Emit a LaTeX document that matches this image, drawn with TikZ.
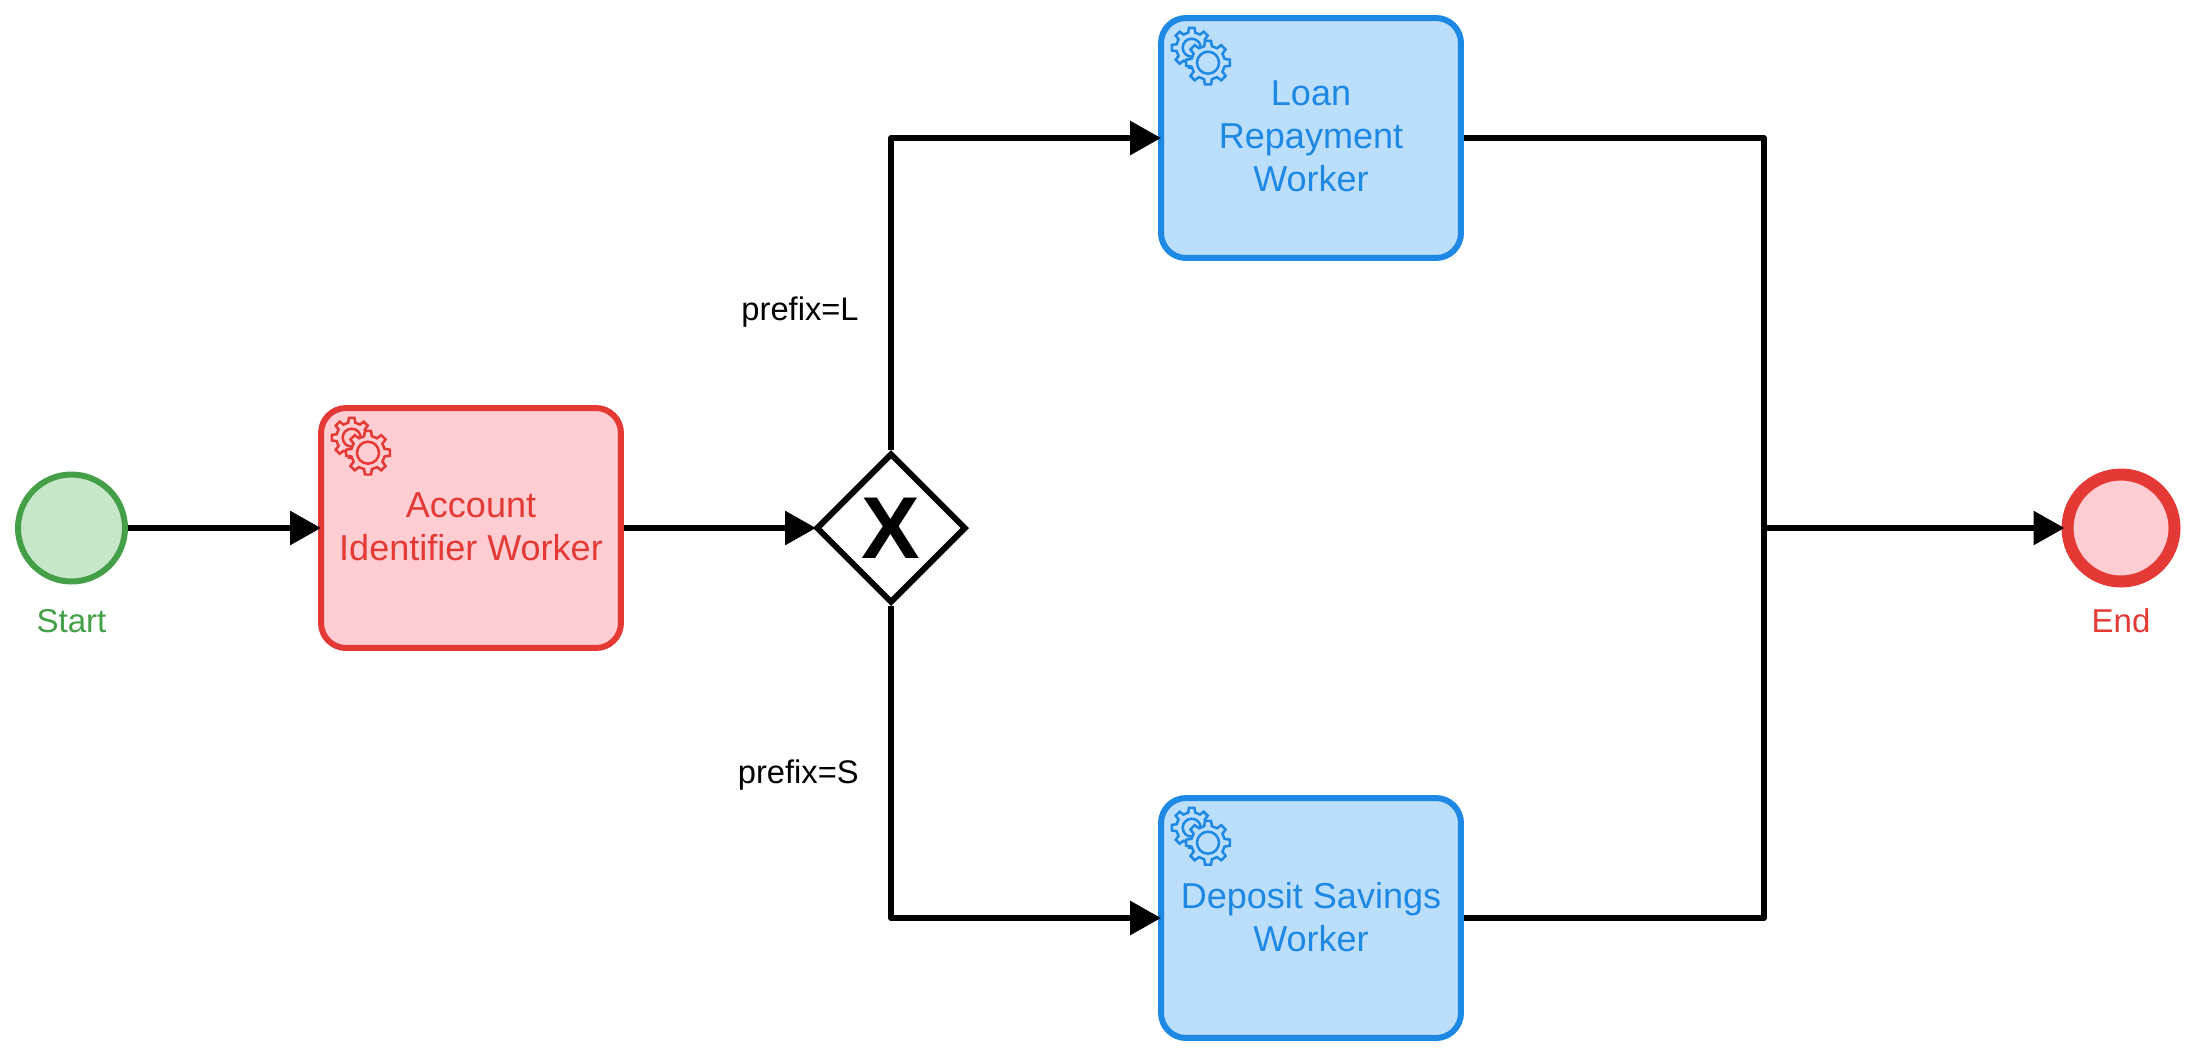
\documentclass[tikz,border=0pt]{standalone}
\usepackage{fontspec}
\setmainfont{Liberation Sans}
\usetikzlibrary{arrows.meta,shapes.geometric}
\definecolor{redline}{HTML}{E53935}
\definecolor{redfill}{HTML}{FFCDD2}
\definecolor{blueline}{HTML}{1E88E5}
\definecolor{bluefill}{HTML}{BBDEFB}
\definecolor{greenline}{HTML}{43A047}
\definecolor{greenfill}{HTML}{C8E6C9}
\tikzset{
  worker/.style={draw, line width=0.12cm, rounded corners=0.5cm, minimum width=6cm, minimum height=4.8cm, inner sep=0pt, align=center, font=\fontsize{20.5}{24.5}\selectfont, execute at end node=\rule[-0.06cm]{0pt}{0pt}},
  redtask/.style={worker, draw=redline, fill=redfill, text=redline},
  bluetask/.style={worker, draw=blueline, fill=bluefill, text=blueline},
  event/.style={circle, minimum size=2.14cm, inner sep=0pt},
  eventlabel/.style={anchor=base, font=\fontsize{18.8}{22}\selectfont},
  flowlabel/.style={anchor=base east, inner sep=0pt, font=\fontsize{18.6}{22}\selectfont},
  flow/.style={line width=0.12cm, line join=round, shorten >=-0.06cm, -{Triangle[length=0.62cm, width=0.66cm]}},
  plain/.style={line width=0.12cm, line join=round},
}
\newcommand{\gearpath}[3]{% body radius, tip radius, hole radius
  (-13:#1) \foreach \a in {0,45,...,315} {-- (\a-13:#1) -- (\a-8:#2) -- (\a+8:#2) -- (\a+13:#1)} -- cycle (0,0) circle (#3)}
\newcommand{\taskgears}[3]{% task, line colour, fill colour
  \begin{scope}[shift={(#1.center)}, line width=0.05cm, draw=#2]
  \draw[fill=#3, even odd rule, shift={(-119.3,-90.3)}] \gearpath{15.5}{20}{9};
  \draw[fill=#3, shift={(-103,-75.3)}] \gearpath{17}{22}{11};
  \end{scope}}
\begin{document}
\begin{tikzpicture}[x=0.02cm, y=-0.02cm]
\useasboundingbox (0,0) rectangle (2193,1056);
%%%%%%%%%%%%%
\node[event, draw=greenline, fill=greenfill, line width=0.12cm] (start) at (71.5,528) {};
\node[redtask] (account) at (471,528) {Account\\Identifier Worker};
\node[diamond, draw, fill=white, line width=0.12cm, minimum width=3cm, minimum height=3cm, inner sep=0pt, font=\fontsize{50}{50}\bfseries] (gateway) at (891,528) {X};
\node[bluetask] (loan) at (1311,138) {Loan\\Repayment\\Worker};
\node[bluetask] (deposit) at (1311,918) {Deposit Savings\\Worker};
\node[event, draw=redline, fill=redfill, line width=0.24cm] (end) at (2121,528) {};
\coordinate (merge) at (1764,528);
%%%%%%%%%%%%%
\node[eventlabel, text=greenline] (startlabel) at (71.5,632.7) {Start};
\node[eventlabel, text=redline] (endlabel) at (2121,632.7) {End};
\node[flowlabel] (prefixl) at (859,320) {prefix=L};
\node[flowlabel] (prefixs) at (859,783) {prefix=S};
%%%%%%%%%%%%%
\taskgears{account}{redline}{redfill}
\taskgears{loan}{blueline}{bluefill}
\taskgears{deposit}{blueline}{bluefill}
%%%%%%%%%%%%%
\draw[flow] (start) -- (account);
\draw[flow] (account) -- (gateway);
\draw[flow] (gateway.north) |- (loan);
\draw[flow] (gateway.south) |- (deposit);
\draw[plain] (loan) -| (merge);
\draw[plain] (deposit) -| (merge);
\draw[flow] (merge) -- (end);
\end{tikzpicture}
\end{document}
